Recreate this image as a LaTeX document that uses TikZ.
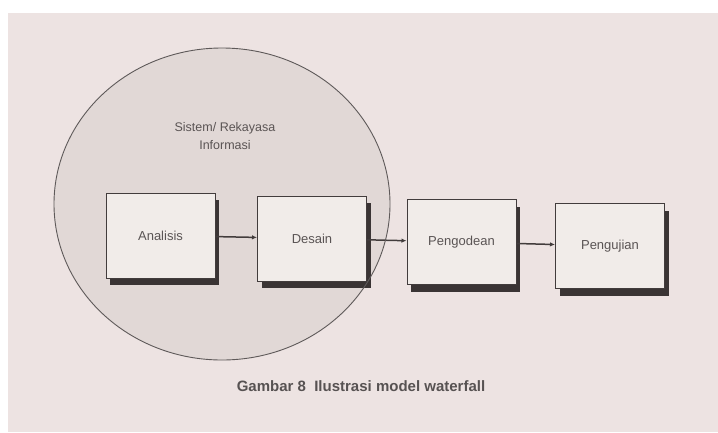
\documentclass[tikz,border=0pt]{standalone}
\usepackage{fontspec}
\setmainfont{Liberation Sans}
\usetikzlibrary{shadows,arrows.meta}
\definecolor{pagec}{RGB}{237,227,226}
\definecolor{circc}{RGB}{225,216,214}
\definecolor{boxc}{RGB}{241,236,233}
\definecolor{shadc}{RGB}{58,52,52}
\definecolor{linec}{RGB}{66,60,60}
\definecolor{textc}{RGB}{90,84,84}
\tikzset{
  stagebox/.style={draw=linec, line width=1pt, fill=boxc, minimum width=109pt, minimum height=85pt,
    inner sep=0pt, text=textc, font=\fontsize{13}{15}\selectfont,
    drop shadow={shadow xshift=4pt, shadow yshift=-7pt, fill=shadc, opacity=1}},
  flow/.style={draw=linec, line width=1.5pt, -{Latex[length=5pt,width=4.5pt]}},
}
\begin{document}
\begin{tikzpicture}[x=1pt,y=-1pt]
\useasboundingbox (0,0) rectangle (718,432);
\fill[white] (0,0) rectangle (718,432);
\fill[pagec] (8,13) rectangle (718,432);
% circle fill
\fill[circc] (222,204) ellipse [x radius=168, y radius=156];
\node[text=textc, align=center, font=\fontsize{12.5}{18}\selectfont] (lbl) at (225,136) {Sistem/ Rekayasa\\Informasi};
\node[stagebox] (a) at (160.5,235.5) {Analisis};
\node[stagebox] (d) at (312,238.5) {Desain};
\node[stagebox] (p) at (461.5,242) {Pengodean};
\node[stagebox] (u) at (610,246) {Pengujian};
\draw[flow] (a) -- (d);
\draw[flow] (d) -- (p);
\draw[flow] (p) -- (u);
% circle outline
\draw[linec!85, line width=0.9pt] (222,204) ellipse [x radius=168, y radius=156];
\node[text=shadc!85, font=\bfseries\fontsize{15}{17}\selectfont] (cap) at (361,386) {Gambar 8\ \ Ilustrasi model waterfall};
\end{tikzpicture}
\end{document}
